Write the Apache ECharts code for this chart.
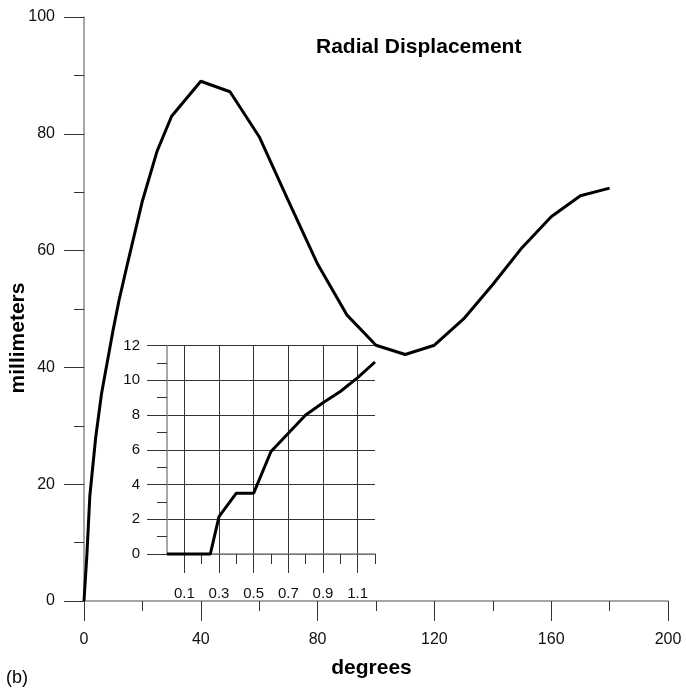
<!DOCTYPE html>
<html>
<head>
<meta charset="utf-8">
<script src="https://cdn.jsdelivr.net/npm/echarts@6/dist/echarts.min.js"></script>
<style>
  html, body { margin: 0; padding: 0; background: #fff; }
  #chart { width: 686px; height: 688px; }
</style>
</head>
<body>
<div id="chart"></div>
<script>
// main curve: degrees vs millimeters
var mainDeg = [0, 1, 2, 4, 6, 8, 10, 12, 15, 20, 25, 30, 40, 50, 60, 70, 80, 90, 100, 110, 120, 130, 140, 150, 160, 170, 180];
var mainMm = [0, 8, 18, 28, 35.5, 41, 46.5, 51.5, 58, 68.5, 77, 83, 89, 87.2, 79.5, 68.5, 57.7, 49, 43.8, 42.2, 43.8, 48.3, 54.2, 60.5, 65.8, 69.4, 70.7];

// inset curve
var insetX = [0, 0.25, 0.3, 0.4, 0.5, 0.6, 0.7, 0.8, 0.9, 1.0, 1.1, 1.2];
var insetY = [0, 0, 2.15, 3.5, 3.5, 5.9, 6.95, 8.0, 8.7, 9.35, 10.15, 11.05];

var insetLabels = [0.1, 0.3, 0.5, 0.7, 0.9, 1.1];
var insetMinor = [0.2, 0.4, 0.6, 0.8, 1.0, 1.2];

function zip(a, b) {
    return a.map(function (v, i) { return [v, b[i]]; });
}

var FONT = "Liberation Sans";
var axisGray = "#8a8a8a";
var tickDark = "#333";

var chart = echarts.init(document.getElementById("chart"));
chart.setOption({
    animation: false,
    backgroundColor: "#fff",
    title: {
        text: "Radial Displacement",
        left: 316,
        top: 37,
        padding: 0,
        textStyle: { fontFamily: FONT, fontSize: 21, fontWeight: "bold", color: "#000" }
    },
    graphic: [{
        type: "text",
        left: 6,
        top: 669,
        style: { text: "(b)", fontFamily: FONT, fontSize: 18, fill: "#000" }
    }],
    grid: [
        { left: 84, right: 18, top: 17, bottom: 87, outerBoundsMode: "none" },
        { left: 167, right: 311, top: 345.5, bottom: 134, outerBoundsMode: "none" }
    ],
    xAxis: [
        {
            type: "value", gridIndex: 0, min: 0, max: 200, interval: 40,
            name: "degrees", nameLocation: "middle", nameGap: 57, nameMoveOverlap: false,
            nameTextStyle: { fontFamily: FONT, fontSize: 21, fontWeight: "bold", color: "#000", padding: [0, 9, 0, 0] },
            axisLine: { lineStyle: { color: axisGray, width: 1.5 } },
            axisTick: { length: 20, lineStyle: { color: tickDark } },
            minorTick: { show: true, splitNumber: 2, length: 10, lineStyle: { color: tickDark } },
            axisLabel: { margin: 31, fontFamily: FONT, fontSize: 16, color: "#111" },
            splitLine: { show: false }
        },
        {
            type: "value", gridIndex: 1, min: 0, max: 1.2, position: "bottom",
            axisLine: { lineStyle: { color: axisGray, width: 1.5 } },
            axisTick: { length: 19, customValues: insetLabels, lineStyle: { color: tickDark } },
            axisLabel: {
                customValues: insetLabels, margin: 32, fontFamily: FONT, fontSize: 15, color: "#111",
                formatter: function (v) { return Number(v).toFixed(1); }
            },
            splitLine: { show: true, lineStyle: { color: tickDark, width: 1 } }
        },
        {
            type: "value", gridIndex: 1, min: 0, max: 1.2, position: "bottom",
            axisLine: { show: false },
            axisTick: { length: 10, customValues: insetMinor, lineStyle: { color: tickDark } },
            axisLabel: { show: false },
            splitLine: { show: false }
        }
    ],
    yAxis: [
        {
            type: "value", gridIndex: 0, min: 0, max: 100, interval: 20,
            name: "millimeters", nameLocation: "middle", nameGap: 55, nameRotate: 90, nameMoveOverlap: false,
            nameTextStyle: { fontFamily: FONT, fontSize: 21, fontWeight: "bold", color: "#000", padding: [0, 58, 0, 0] },
            axisLine: { show: true, lineStyle: { color: axisGray, width: 1.5 } },
            axisTick: { show: true, length: 20, lineStyle: { color: tickDark } },
            minorTick: { show: true, splitNumber: 2, length: 10, lineStyle: { color: tickDark } },
            axisLabel: { margin: 29, fontFamily: FONT, fontSize: 16, color: "#111" },
            splitLine: { show: false }
        },
        {
            type: "value", gridIndex: 1, min: 0, max: 12, interval: 2,
            axisLine: { show: true, lineStyle: { color: axisGray, width: 1.5 } },
            axisTick: { show: true, length: 20, lineStyle: { color: tickDark } },
            minorTick: { show: true, splitNumber: 2, length: 10, lineStyle: { color: tickDark } },
            axisLabel: { margin: 27, fontFamily: FONT, fontSize: 15, color: "#111" },
            splitLine: { show: true, lineStyle: { color: tickDark, width: 1 } }
        }
    ],
    series: [
        {
            type: "line", xAxisIndex: 0, yAxisIndex: 0,
            data: zip(mainDeg, mainMm),
            showSymbol: false, clip: false,
            lineStyle: { color: "#000", width: 3 }
        },
        {
            type: "line", xAxisIndex: 1, yAxisIndex: 1,
            data: zip(insetX, insetY),
            showSymbol: false, clip: false,
            lineStyle: { color: "#000", width: 3 }
        }
    ]
});
</script>
</body>
</html>
